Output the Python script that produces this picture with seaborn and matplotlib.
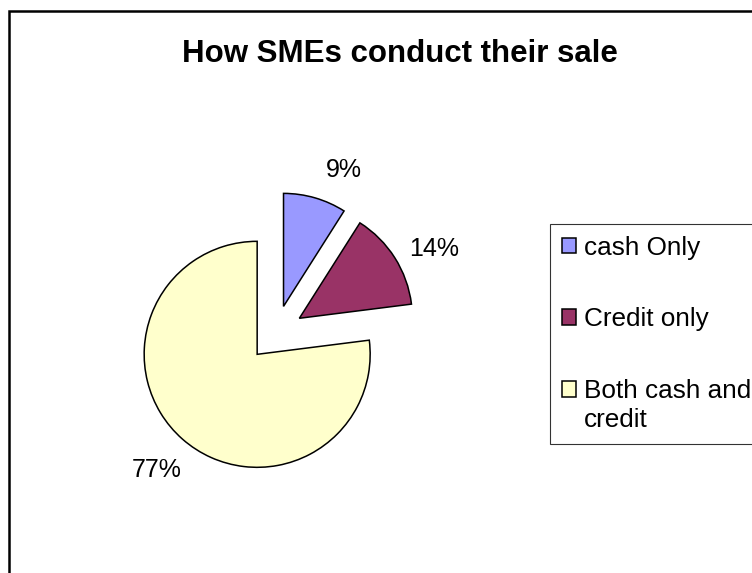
import matplotlib
matplotlib.use("Agg")
import matplotlib.pyplot as plt
from matplotlib.patches import Rectangle
import seaborn as sns

# Data
categories = ["cash Only", "Credit only", "Both cash and\ncredit"]
shares = [9, 14, 77]
slice_colors = ["#9999FF", "#993366", "#FFFFCC"]
title_text = "How SMEs conduct their sale"

sns.set_theme(style="white")
plt.rcParams["font.family"] = ["Liberation Sans", "DejaVu Sans"]
palette = sns.color_palette(slice_colors)

W, H, DPI = 752, 573, 100
fig = plt.figure(figsize=(W / DPI, H / DPI), dpi=DPI)
fig.patch.set_facecolor("white")

# outer chart-area frame (runs off the right and bottom edges)
fig.add_artist(Rectangle((9 / W, -0.05), 1.2, 1 - 11 / H + 0.05,
                         transform=fig.transFigure, fill=False,
                         edgecolor="black", linewidth=1.8))

ax = fig.add_axes([0, 0, 1, 1])
unit = 113.0  # pie radius in pixels
cx, cy = 275.7, 573 - 333.3
wedges, texts, autotexts = ax.pie(
    shares,
    colors=palette,
    explode=[0.248] * len(shares),
    startangle=90,
    counterclock=False,
    autopct="%1.0f%%",
    pctdistance=1.32,
    wedgeprops=dict(edgecolor="black", linewidth=1.1),
    textprops=dict(fontsize=18, color="black"),
)
# nudge the percentage labels slightly, the way the spreadsheet placed them
label_nudge = [(0.17, -0.06), (0.08, -0.09), (-0.02, -0.03)]
for t, (dx, dy) in zip(autotexts, label_nudge):
    x, y = t.get_position()
    t.set_position((x + dx, y + dy))

ax.set_xlim(-cx / unit, (W - cx) / unit)
ax.set_ylim(-cy / unit, (H - cy) / unit)
ax.set_aspect("equal")
ax.axis("off")

fig.text(399.5 / W, 1 - 62 / H, title_text, ha="center", va="baseline",
         fontsize=22.5, fontweight="bold", color="black")

legend_size = 18.8
leg = fig.legend(
    wedges, categories,
    loc="upper left",
    bbox_to_anchor=(550 / W, 1 - 224 / H),
    bbox_transform=fig.transFigure,
    fontsize=legend_size,
    labelcolor="black",
    frameon=True,
    fancybox=False,
    shadow=False,
    borderaxespad=0,
    borderpad=0.45,
    labelspacing=1.82,
    handlelength=0.54,
    handleheight=0.54,
    handletextpad=0.3,
)
leg.get_frame().set_edgecolor("black")
leg.get_frame().set_linewidth(0.8)
leg.get_frame().set_facecolor("white")
for txt in leg.get_texts():
    txt.set_linespacing(1.3)

# keep each swatch level with the first line of its label
for handle, label in zip(leg.legend_handles, categories):
    extra_lines = label.count("\n")
    if extra_lines:
        handle.set_y(handle.get_y() + extra_lines * legend_size * 1.3 / 2)

fig.savefig("out.png", dpi=DPI)
